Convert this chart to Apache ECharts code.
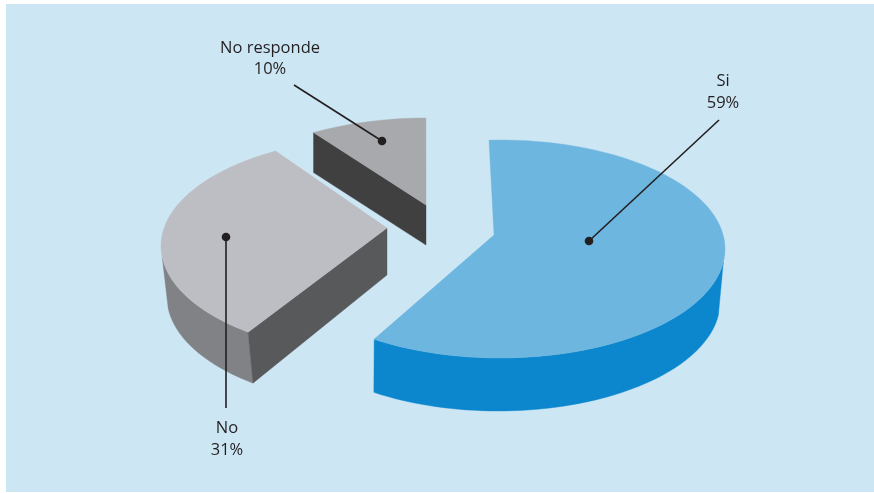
<!DOCTYPE html>
<html>
<head>
<meta charset="utf-8">
<style>html,body{margin:0;padding:0;background:#fff}#c{width:874px;height:493px}</style>
<script src="https://cdn.jsdelivr.net/npm/echarts@6/dist/echarts.min.js"></script>
</head>
<body>
<div id="c"></div>
<script>
const categories = ['Si', 'No', 'No responde'];
const values = [59, 31, 10];

// Layout of the exploded, tilted slices (pixels / degrees): not data.
const RX = 225, RY = 109, BRX = 222;
const layout = [
  { c:[500,249], b:[498,302], apex:[494,235], start:-92.8, stretch:1.021, wallFrom:7, wallTo:124,
    top:'#6cb6df', wall:'#0c87cd', cut:null, drop:null,
    dot:[589,241], end:[719,120], label:[723,81], label2:[723,103] },
  { c:[386,246], b:[389,297], apex:[387,228], start:127.8, stretch:1.011, wallFrom:127.8, wallTo:174,
    top:'#bcbec3', wall:'#808285', cut:'#58595b', drop:47,
    dot:[226,237], end:[226,408], label:[227,428], label2:[227,450] },
  { c:[426,227], b:null, apex:[426,205], start:-120, stretch:0.833, wallFrom:null, wallTo:null,
    top:'#a7a9ac', wall:null, cut:'#404041', drop:40,
    dot:[382,141], end:[294,85], label:[270,48], label2:[270,69] }
];
const INK = '#231f20';
const FONT = '"Open Sans", "Noto Sans", sans-serif';

function ell(c, rx, deg) {
  const t = deg * Math.PI / 180;
  return [c[0] + rx * Math.cos(t), c[1] + RY * Math.sin(t)];
}
function arc(c, rx, a, b) {
  const pts = [], n = Math.max(2, Math.ceil(Math.abs(b - a) / 2));
  for (let i = 0; i <= n; i++) pts.push(ell(c, rx, a + (b - a) * i / n));
  return pts;
}
function poly(points, fill) {
  return { type:'polygon', shape:{ points }, style:{ fill, stroke:fill, lineWidth:0.4 } };
}
function txt(x, y, text) {
  return { type:'text', x, y, style:{ text, fill:INK, font:'16.5px ' + FONT, textAlign:'center', textVerticalAlign:'middle' } };
}

function renderItem(params, api) {
  const i = params.dataIndex, L = layout[i], value = api.value(0);
  const a0 = L.start, a1 = a0 + value * 3.6 * L.stretch;
  const children = [];
  if (L.wall) {
    children.push(poly(arc(L.c, RX, L.wallFrom, L.wallTo).concat(arc(L.b, BRX, L.wallTo, L.wallFrom)), L.wall));
  }
  if (L.cut) {
    const corner = ell(L.c, RX, a0);
    const lower = L.b ? ell(L.b, BRX, a0) : [corner[0], corner[1] + L.drop];
    children.push(poly([corner, L.apex, [L.apex[0], L.apex[1] + L.drop], lower], L.cut));
  }
  children.push(poly([L.apex].concat(arc(L.c, RX, a0, a1)), L.top));
  children.push({ type:'line', shape:{ x1:L.dot[0], y1:L.dot[1], x2:L.end[0], y2:L.end[1] },
    style:{ stroke:INK, lineWidth:1.6 } });
  children.push({ type:'circle', shape:{ cx:L.dot[0], cy:L.dot[1], r:4.3 }, style:{ fill:INK } });
  children.push(txt(L.label[0], L.label[1], categories[i]));
  children.push(txt(L.label2[0], L.label2[1], value + '%'));
  return { type:'group', children };
}

const chart = echarts.init(document.getElementById('c'), null, { renderer:'canvas' });
chart.setOption({
  animation:false,
  backgroundColor:'#ffffff',
  graphic:[{ type:'rect', z:-10, silent:true, shape:{ x:6, y:4, width:868, height:488 }, style:{ fill:'#cde6f4' } }],
  series:[{
    type:'custom',
    coordinateSystem:'none',
    renderItem,
    data: values.map((v, i) => ({ name:categories[i], value:[v] }))
  }]
});
</script>
</body>
</html>
